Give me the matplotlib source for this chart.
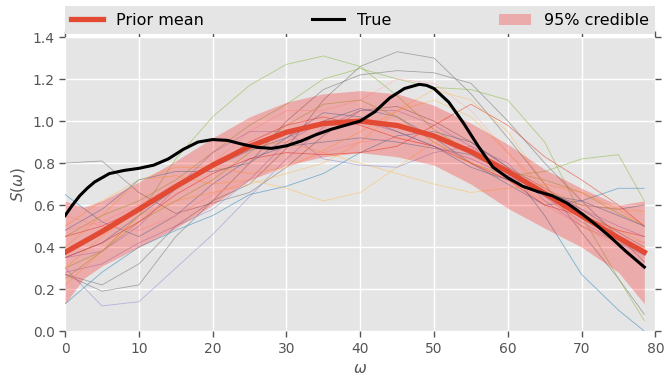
import matplotlib
matplotlib.use("Agg")
import matplotlib.pyplot as plt
import numpy as np

# ---- data ----
x_grid = [0, 5, 10, 15, 20, 25, 30, 35, 40, 45, 50, 55, 60, 65, 70, 75, 78.5]
prior_mean = [0.375, 0.474, 0.580, 0.688, 0.790, 0.879, 0.947, 0.988, 1.0, 0.979,
              0.929, 0.855, 0.761, 0.656, 0.549, 0.444, 0.376]

x_band = [0, 2.5, 5, 10, 15, 20, 25, 30, 35, 40, 45, 50, 55, 60, 65, 70, 75, 78.5]
band_upper = [0.62, 0.59, 0.62, 0.71, 0.81, 0.92, 1.02, 1.09, 1.13, 1.145, 1.13,
              1.075, 0.99, 0.89, 0.77, 0.68, 0.60, 0.62]
band_lower = [0.13, 0.25, 0.31, 0.40, 0.49, 0.60, 0.72, 0.79, 0.83, 0.85, 0.83,
              0.79, 0.70, 0.585, 0.49, 0.40, 0.28, 0.13]

x_true = [0, 1, 2, 3, 4, 5, 6, 8, 10, 12, 14, 16, 18, 20, 22, 24, 26, 28, 30, 32,
          34, 36, 38, 40, 42, 44, 46, 48, 49, 50, 52, 54, 56, 58, 60, 62, 64, 66,
          68, 70, 72, 74, 76, 78.5]
y_true = [0.55, 0.60, 0.645, 0.68, 0.71, 0.73, 0.75, 0.765, 0.775, 0.79, 0.82,
          0.865, 0.90, 0.912, 0.908, 0.89, 0.875, 0.87, 0.882, 0.905, 0.935, 0.96,
          0.98, 1.0, 1.045, 1.11, 1.155, 1.175, 1.17, 1.155, 1.09, 0.99, 0.88,
          0.78, 0.73, 0.69, 0.665, 0.645, 0.61, 0.56, 0.505, 0.445, 0.38, 0.305]

# posterior sample curves (values at x_grid)
samples = {
    "gray_a":   [0.80, 0.81, 0.66, 0.56, 0.61, 0.66, 0.78, 0.93, 1.05, 1.07, 1.00, 0.90, 0.78, 0.68, 0.58, 0.47, 0.40],
    "gray_b":   [0.27, 0.22, 0.32, 0.50, 0.62, 0.70, 0.87, 1.10, 1.26, 1.33, 1.30, 1.13, 0.92, 0.70, 0.47, 0.25, 0.08],
    "gray_c":   [0.27, 0.19, 0.22, 0.45, 0.62, 0.80, 1.00, 1.15, 1.22, 1.24, 1.23, 1.18, 1.00, 0.80, 0.62, 0.45, 0.33],
    "purple_d": [0.30, 0.12, 0.14, 0.30, 0.46, 0.64, 0.82, 0.97, 1.05, 1.05, 0.98, 0.88, 0.76, 0.64, 0.52, 0.42, 0.36],
    "blue_e":   [0.13, 0.28, 0.40, 0.48, 0.55, 0.65, 0.69, 0.75, 0.85, 0.93, 0.95, 0.90, 0.78, 0.55, 0.27, 0.10, 0.00],
    "blue_f":   [0.65, 0.52, 0.45, 0.55, 0.70, 0.82, 0.88, 0.90, 0.92, 0.90, 0.87, 0.84, 0.75, 0.66, 0.60, 0.58, 0.60],
    "blue_g":   [0.35, 0.42, 0.55, 0.68, 0.78, 0.86, 0.92, 1.00, 1.06, 1.02, 0.92, 0.80, 0.70, 0.60, 0.62, 0.68, 0.68],
    "green_h":  [0.30, 0.38, 0.55, 0.82, 1.02, 1.17, 1.27, 1.31, 1.26, 1.12, 0.96, 0.85, 0.76, 0.72, 0.66, 0.56, 0.50],
    "green_i":  [0.25, 0.38, 0.52, 0.62, 0.72, 0.85, 0.98, 1.08, 1.10, 1.02, 0.90, 0.80, 0.74, 0.76, 0.82, 0.84, 0.62],
    "green_j":  [0.45, 0.55, 0.62, 0.72, 0.85, 0.98, 1.08, 1.20, 1.25, 1.20, 1.16, 1.15, 1.10, 0.90, 0.55, 0.25, 0.05],
    "yellow_l": [0.40, 0.55, 0.72, 0.78, 0.78, 0.75, 0.78, 0.86, 0.95, 1.05, 1.10, 1.02, 0.85, 0.68, 0.60, 0.58, 0.57],
    "yellow_m": [0.50, 0.62, 0.72, 0.74, 0.70, 0.72, 0.68, 0.62, 0.66, 0.78, 0.90, 0.80, 0.72, 0.62, 0.55, 0.48, 0.42],
    "yellow_n": [0.30, 0.45, 0.58, 0.70, 0.80, 0.88, 0.90, 0.85, 0.80, 0.75, 0.70, 0.66, 0.68, 0.70, 0.66, 0.58, 0.50],
    "pink_o":   [0.48, 0.52, 0.60, 0.70, 0.80, 0.95, 1.05, 1.05, 1.10, 1.20, 1.18, 1.05, 0.85, 0.65, 0.50, 0.40, 0.35],
    "pink_p":   [0.55, 0.50, 0.48, 0.55, 0.65, 0.72, 0.78, 0.85, 0.90, 0.92, 0.88, 0.82, 0.75, 0.60, 0.50, 0.45, 0.42],
    "red_q":    [0.35, 0.42, 0.52, 0.65, 0.75, 0.82, 0.85, 0.84, 0.85, 0.88, 0.98, 1.08, 0.98, 0.83, 0.72, 0.60, 0.50],
    "red_r":    [0.45, 0.50, 0.58, 0.68, 0.78, 0.90, 0.98, 1.02, 0.98, 0.92, 0.88, 0.80, 0.72, 0.60, 0.55, 0.48, 0.45],
    "purple_s": [0.28, 0.32, 0.42, 0.50, 0.58, 0.72, 0.90, 1.00, 1.00, 0.95, 0.88, 0.82, 0.74, 0.66, 0.58, 0.50, 0.45],
    "purple_t": [0.35, 0.38, 0.50, 0.68, 0.85, 0.95, 0.95, 0.82, 0.79, 0.78, 0.85, 0.88, 0.80, 0.62, 0.50, 0.42, 0.38],
    "blue_u":   [0.48, 0.58, 0.72, 0.76, 0.76, 0.80, 0.92, 1.04, 1.02, 0.95, 0.88, 0.78, 0.72, 0.65, 0.62, 0.55, 0.50],
    "yellow_v": [0.22, 0.38, 0.55, 0.62, 0.66, 0.70, 0.75, 0.80, 0.90, 1.05, 1.15, 1.10, 0.95, 0.70, 0.50, 0.42, 0.40],
}
sample_colors = {
    "gray": "#777777", "purple": "#988ED5", "blue": "#348ABD", "green": "#8EBA42",
    "yellow": "#FBC15E", "pink": "#FFB5B8", "red": "#E24A33",
}

x_ticks = [0, 10, 20, 30, 40, 50, 60, 70, 80]
y_ticks = [0.0, 0.2, 0.4, 0.6, 0.8, 1.0, 1.2, 1.4]

# ---- plot ----
plt.rcParams['font.family'] = ['DejaVu Sans']
fig = plt.figure(figsize=(6.64, 3.78), dpi=100)
ax = fig.add_axes([0.098, 0.124, 0.889, 0.778])
ax.set_facecolor('#E5E5E5')
for s in ax.spines.values():
    s.set_visible(False)
ax.grid(True, color='white', linewidth=1.0, linestyle='-')
ax.set_axisbelow(True)

for name, vals in samples.items():
    c = sample_colors[name.split('_')[0]]
    ax.plot(x_grid, vals, color=c, lw=0.6, alpha=0.6, zorder=2)

band = ax.fill_between(x_band, band_lower, band_upper, color='red', alpha=0.25,
                       linewidth=0, zorder=3, label='95% credible')
ax.plot(x_grid, prior_mean, color='#E24A33', lw=3.8, zorder=4, label='Prior mean')
ax.plot(x_true, y_true, color='black', lw=2.2, zorder=5, label='True')

ax.set_xlim(0, 80)
ax.set_ylim(0, 1.4)
ax.set_xticks(x_ticks)
ax.set_yticks(y_ticks)
ax.set_yticklabels([f"{v:.1f}" for v in y_ticks])
ax.tick_params(direction='out', length=4, width=1, color='#555555',
               labelcolor='#555555', labelsize=10, top=True, right=True)
ax.set_xlabel(r'$\omega$', color='#555555', fontsize=11)
ax.set_ylabel(r'$S(\omega)$', color='#555555', fontsize=11)

handles, labels = ax.get_legend_handles_labels()
order = [labels.index('Prior mean'), labels.index('True'), labels.index('95% credible')]
leg = ax.legend([handles[i] for i in order], [labels[i] for i in order],
                bbox_to_anchor=(0., 1.01, 1., .1), loc='lower left', ncol=3,
                mode='expand', borderaxespad=0., fontsize=11.5, frameon=True,
                fancybox=False, facecolor='#E5E5E5', edgecolor='none', framealpha=1)

fig.savefig('out.png', dpi=100)
